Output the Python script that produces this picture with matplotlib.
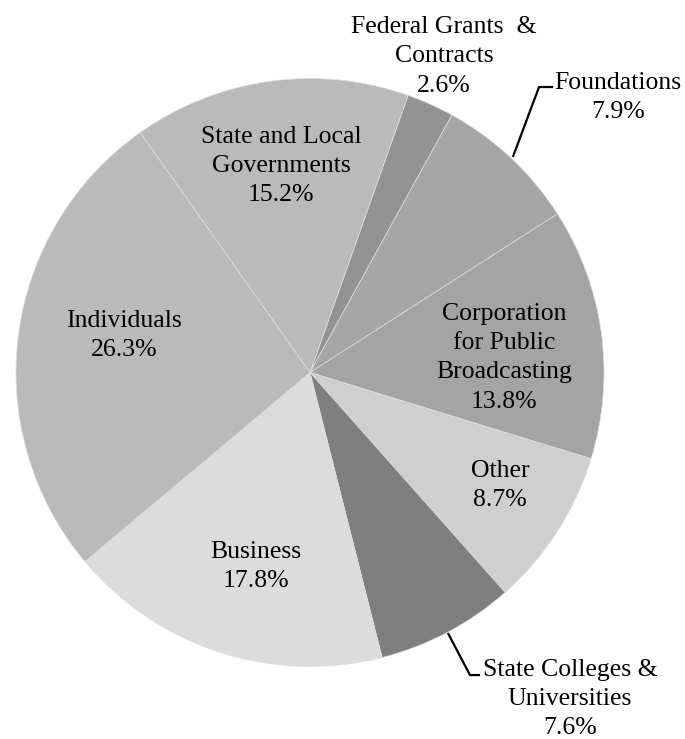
import matplotlib.pyplot as plt

# revenue sources, clockwise from the top
sources = ['Federal Grants  &\nContracts', 'Foundations', 'Corporation\nfor Public\nBroadcasting',
           'Other', 'State Colleges &\nUniversities', 'Business', 'Individuals',
           'State and Local\nGovernments']
shares = [2.6, 7.9, 13.8, 8.7, 7.6, 17.8, 26.3, 15.2]
colors = ['#939393', '#a6a6a6', '#a4a4a4', '#cfcfcf', '#7f7f7f', '#dcdcdc', '#bababa', '#bababa']

# where each label block sits (data coords, pie radius = 1)
label_xy = [(0.456, 1.075), (1.048, 0.934), (0.66, 0.05), (0.646, -0.383),
            (0.884, -1.11), (-0.184, -0.661), (-0.633, 0.126), (-0.099, 0.702)]
# leader lines for the two labels outside the pie
leaders = {1: [(0.690, 0.733), (0.779, 0.971), (0.827, 0.971)],
           4: [(0.469, -0.886), (0.544, -1.029), (0.578, -1.029)]}

plt.rcParams['font.family'] = ['Liberation Serif', 'DejaVu Serif']

fig = plt.figure(figsize=(6.85, 7.39), dpi=100)
ax = fig.add_axes([0, 0, 1, 1])

ax.pie(shares, colors=colors, startangle=70.5, counterclock=False, radius=1,
       wedgeprops=dict(edgecolor='#dedede', linewidth=0.5))

for i, (name, val) in enumerate(zip(sources, shares)):
    x, y = label_xy[i]
    ax.text(x, y, f'{name}\n{val:.1f}%', ha='center', va='center',
            fontsize=18.5, linespacing=1.42)
    if i in leaders:
        xs, ys = zip(*leaders[i])
        ax.plot(xs, ys, color='black', linewidth=1.6, solid_capstyle='butt')

ax.set_xlim(-310 / 294, 375 / 294)
ax.set_ylim(-366.5 / 294, 372.5 / 294)
ax.set_aspect('auto')
ax.axis('off')

fig.savefig('out.png', dpi=100)
